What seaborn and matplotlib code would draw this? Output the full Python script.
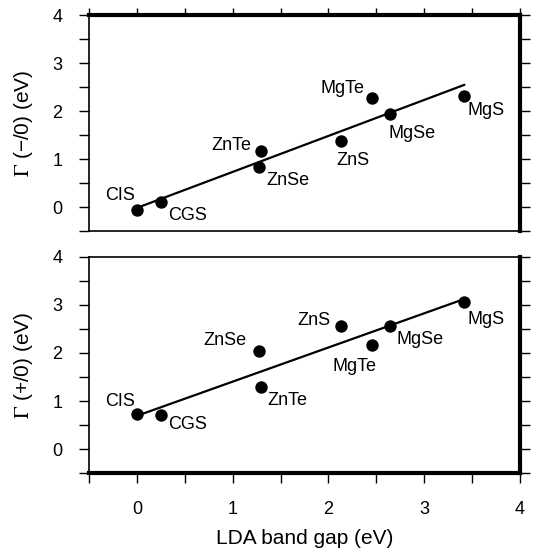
import matplotlib
matplotlib.use("Agg")
import matplotlib.pyplot as plt
import seaborn as sns
import pandas as pd
from matplotlib.ticker import MultipleLocator

sns.set_style("ticks")
plt.rcParams['font.family'] = ['Liberation Sans', 'DejaVu Sans']
plt.rcParams['mathtext.fontset'] = 'stix'
plt.rcParams['text.color'] = 'black'
plt.rcParams['axes.labelcolor'] = 'black'
plt.rcParams['xtick.color'] = 'black'
plt.rcParams['ytick.color'] = 'black'

# data
compounds = ['CIS', 'CGS', 'ZnSe', 'ZnTe', 'ZnS', 'MgTe', 'MgSe', 'MgS']
lda_gap = [0.0, 0.25, 1.28, 1.30, 2.13, 2.45, 2.64, 3.42]
gamma_minus = [-0.07, 0.10, 0.84, 1.16, 1.38, 2.28, 1.94, 2.32]
gamma_plus = [0.72, 0.70, 2.04, 1.29, 2.56, 2.17, 2.57, 3.07]

# label offsets in pixels (dx, dy)
offs_minus = [(-17, 15), (27, -13), (28, -14), (-30, 6), (12, -20), (-29, 9), (22, -20), (22, -15)]
offs_plus = [(-17, 13), (27, -9), (-35, 11), (26, -13), (-27, 6), (-17, -22), (30, -14), (22, -18)]

df = pd.DataFrame({'gap': lda_gap, 'minus': gamma_minus, 'plus': gamma_plus, 'name': compounds})

fig = plt.figure(figsize=(5.36, 5.55), dpi=100)
ax1 = fig.add_axes([89/536, 1-231/555, 431/536, 216/555])
ax2 = fig.add_axes([89/536, 1-473/555, 431/536, 216/555])

for ax, col, offs, ylab in [(ax1, 'minus', offs_minus, r'$\mathrm{\Gamma}$ (−/0) (eV)'),
                            (ax2, 'plus', offs_plus, r'$\mathrm{\Gamma}$ (+/0) (eV)')]:
    sns.regplot(data=df, x='gap', y=col, ax=ax, ci=None, color='black',
                scatter_kws={'s': 80, 'alpha': 1, 'linewidths': 0},
                line_kws={'lw': 1.6})
    for name, x, y, (dx, dy) in zip(df['name'], df['gap'], df[col], offs):
        ax.annotate(name, (x, y), xytext=(dx, dy), textcoords='offset pixels',
                    ha='center', va='center', fontsize=13)
    ax.set_xlim(-0.5, 4)
    ax.set_ylim(-0.5, 4)
    ax.xaxis.set_major_locator(MultipleLocator(1))
    ax.xaxis.set_minor_locator(MultipleLocator(0.5))
    ax.yaxis.set_major_locator(MultipleLocator(1))
    ax.yaxis.set_minor_locator(MultipleLocator(0.5))
    ax.set_ylabel(ylab, fontsize=15)
    ax.yaxis.set_label_coords(-0.125, 0.5)
    ax.tick_params(axis='y', which='both', direction='out', length=7, width=1,
                   left=True, right=True, labelsize=13, pad=12)
    ax.tick_params(axis='x', which='both', direction='out', width=1, labelsize=13)
    for s in ax.spines.values():
        s.set_color('black')
        s.set_linewidth(1.2)
    ax.spines['right'].set_linewidth(3)

ax1.tick_params(axis='x', which='both', top=True, bottom=False, labelbottom=False, length=5)
ax1.spines['top'].set_linewidth(3)
ax1.set_xlabel('')

ax2.tick_params(axis='x', which='both', top=False, bottom=True, length=7, pad=13)
ax2.spines['bottom'].set_linewidth(3)
ax2.set_xlabel('LDA band gap (eV)', fontsize=15)
ax2.xaxis.set_label_coords(0.5, -0.26)

fig.savefig('out.png', dpi=100)
